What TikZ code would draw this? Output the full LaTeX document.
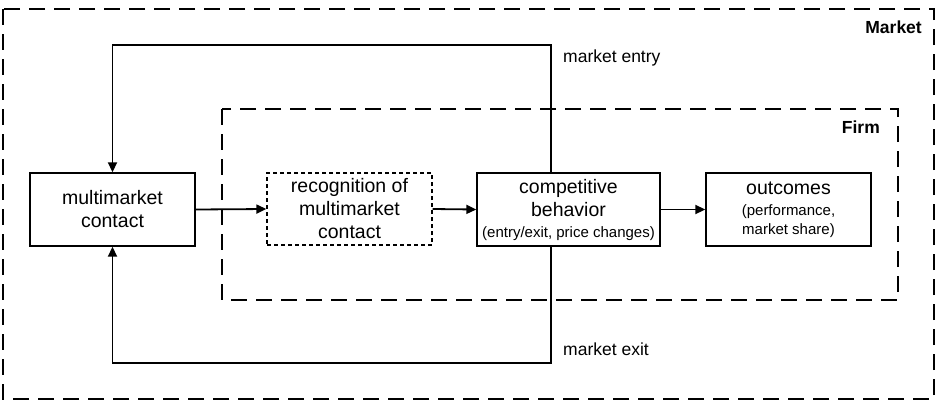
\documentclass[tikz,border=0pt]{standalone}
\usepackage{fontspec}
\setmainfont{Liberation Sans}
\usetikzlibrary{arrows.meta}
\newcommand{\subtxt}{\fontsize{15}{18}\selectfont}
\begin{document}
\begin{tikzpicture}[x=1pt,y=-1pt,
 box/.style={draw, line width=1.4pt, minimum width=165pt, minimum height=73pt, inner sep=0pt, align=center, font=\fontsize{19.5}{23}\selectfont},
 region/.style={draw, line width=2.8pt, dash pattern=on 16pt off 9pt},
 arr/.style={line width=1.8pt, -{Triangle[length=10pt,width=9pt]}},
 lbl/.style={font=\fontsize{17.5}{21}\selectfont, anchor=west, inner sep=0pt},
 ttl/.style={font=\bfseries\fontsize{17.5}{21}\selectfont, anchor=east, inner sep=0pt}]
\useasboundingbox (0,0) rectangle (950,400);
\fill[white] (0,0) rectangle (950,400);
% regions
\draw[region] (3,9) rectangle (934,399);
\draw[region] (222,109) rectangle (898,300);
\node[ttl] (market) at (922,27) {Market};
\node[ttl] (firm) at (880,127) {Firm};
% boxes
\node[box] (mmc) at (112.5,209.5) {multimarket\\contact};
\node[box, dash pattern=on 4pt off 3pt, line width=1.3pt, minimum height=72pt] (rec) at (349.5,209) {recognition of\\multimarket\\contact};
\node[box, minimum width=183pt] (comp) at (568.5,209.5) {competitive\\behavior\\[-2pt]{\subtxt (entry/exit, price changes)}};
\node[box] (out) at (788.5,209.5) {outcomes\\[-2pt]{\subtxt (performance,}\\[-4pt]{\subtxt market share)}};
% connectors
\draw[arr] (mmc.east) -- (rec.west);
\draw[arr] (rec.east) -- (comp.west);
\draw[arr] (comp.east) -- (out.west);
\coordinate (ctop) at ([xshift=-17.5pt]comp.north);
\coordinate (cbot) at ([xshift=-17.5pt]comp.south);
\coordinate (topturn) at (551,45);
\coordinate (botturn) at (551,363);
\draw[arr] (ctop) -- (topturn) -| (mmc.north);
\draw[arr] (cbot) -- (botturn) -| (mmc.south);
\node[lbl] (entry) at (563,58) {market entry};
\node[lbl] (exit) at (563,349) {market exit};
\end{tikzpicture}
\end{document}
